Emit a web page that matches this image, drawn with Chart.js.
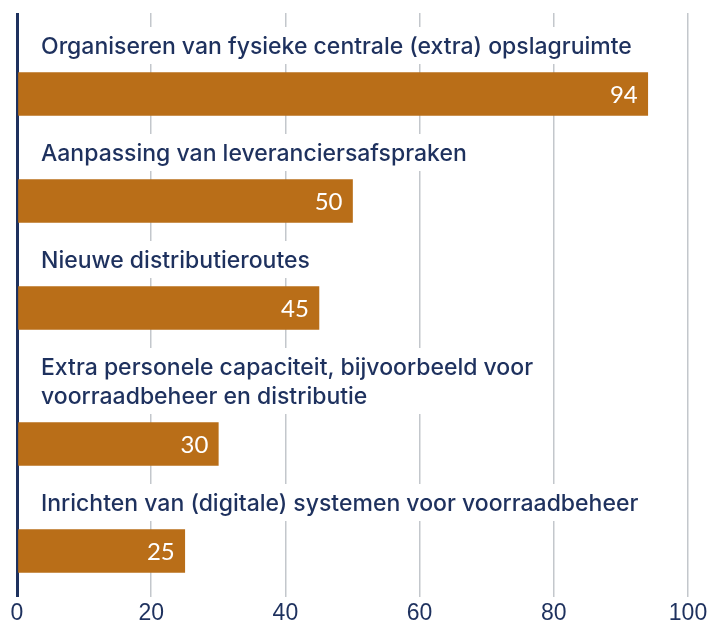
<!DOCTYPE html>
<html>
<head>
<meta charset="utf-8">
<script src="https://cdn.jsdelivr.net/npm/chart.js@4"></script>
<style>
  html, body { margin: 0; padding: 0; background: #fff; }
  #wrap { width: 707px; height: 624px; }
</style>
</head>
<body>
<div id="wrap"><canvas id="myChart"></canvas></div>
<script>
const categories = [
  ['Organiseren van fysieke centrale (extra) opslagruimte'],
  ['Aanpassing van leveranciersafspraken'],
  ['Nieuwe distributieroutes'],
  ['Extra personele capaciteit, bijvoorbeeld voor', 'voorraadbeheer en distributie'],
  ['Inrichten van (digitale) systemen voor voorraadbeheer']
];
const values = [94, 50, 45, 30, 25];
const xTicks = [0, 20, 40, 60, 80, 100];

const navy = 'rgb(30, 49, 94)';
const barColor = 'rgb(185, 110, 24)';
const labelFont = '500 23px Inter';
const valueFont = '24px Lato';

// rows get taller when the label needs two lines
const rowPitch = 107, lineH = 29, firstOffset = 81;
let acc = 0;
const rowPos = [];
for (let i = 0; i < categories.length; i++) {
  const extra = lineH * (categories[i].length - 1);
  rowPos.push(acc + firstOffset + extra);
  acc += rowPitch + extra;
}

const labelPlugin = {
  id: 'rowLabels',
  afterDatasetsDraw(chart) {
    const c = chart.ctx;
    const meta = chart.getDatasetMeta(0);
    const left = chart.chartArea.left + 24;
    c.save();
    meta.data.forEach((bar, i) => {
      const lines = categories[i];
      const lastY = bar.y - 47;
      const firstY = lastY - lineH * (lines.length - 1);
      c.font = labelFont;
      let w = 0;
      lines.forEach(t => { w = Math.max(w, c.measureText(t).width); });
      c.fillStyle = '#fff';
      c.fillRect(left - 4, firstY - 20, w + 8, (lastY + 17) - (firstY - 20));
      c.fillStyle = navy;
      c.textAlign = 'left';
      c.textBaseline = 'middle';
      lines.forEach((t, k) => c.fillText(t, left, firstY + k * lineH));
      c.font = valueFont;
      c.fillStyle = '#fff';
      c.textAlign = 'right';
      c.fillText(String(values[i]), bar.x - 10, bar.y + 1);
    });
    c.restore();
  }
};

const ctx = document.getElementById('myChart');
new Chart(ctx, {
  type: 'bar',
  data: {
    datasets: [{
      data: values.map((v, i) => ({ x: v, y: rowPos[i] })),
      backgroundColor: barColor,
      borderWidth: 0,
      barThickness: 43
    }]
  },
  options: {
    indexAxis: 'y',
    responsive: true,
    maintainAspectRatio: false,
    animation: false,
    layout: { padding: { top: 13, left: 17, right: 19, bottom: 0 } },
    scales: {
      x: {
        type: 'linear',
        min: 0,
        max: 100,
        afterBuildTicks: axis => { axis.ticks = xTicks.map(v => ({ value: v })); },
        afterFit: s => { s.height = 27; s.paddingLeft = 0; s.paddingRight = 0; },
        border: { display: false },
        grid: {
          drawTicks: false,
          color: c => c.tick && c.tick.value === 0 ? navy : 'rgb(195, 199, 204)',
          lineWidth: c => c.tick && c.tick.value === 0 ? 3 : 1.5
        },
        ticks: {
          padding: 3,
          maxRotation: 0,
          color: navy,
          font: { family: 'Liberation Sans', size: 23 }
        }
      },
      y: {
        type: 'linear',
        display: false,
        reverse: true,
        offset: false,
        min: 0,
        max: 584
      }
    },
    plugins: {
      legend: { display: false },
      tooltip: { enabled: false }
    }
  },
  plugins: [labelPlugin]
});
</script>
</body>
</html>
